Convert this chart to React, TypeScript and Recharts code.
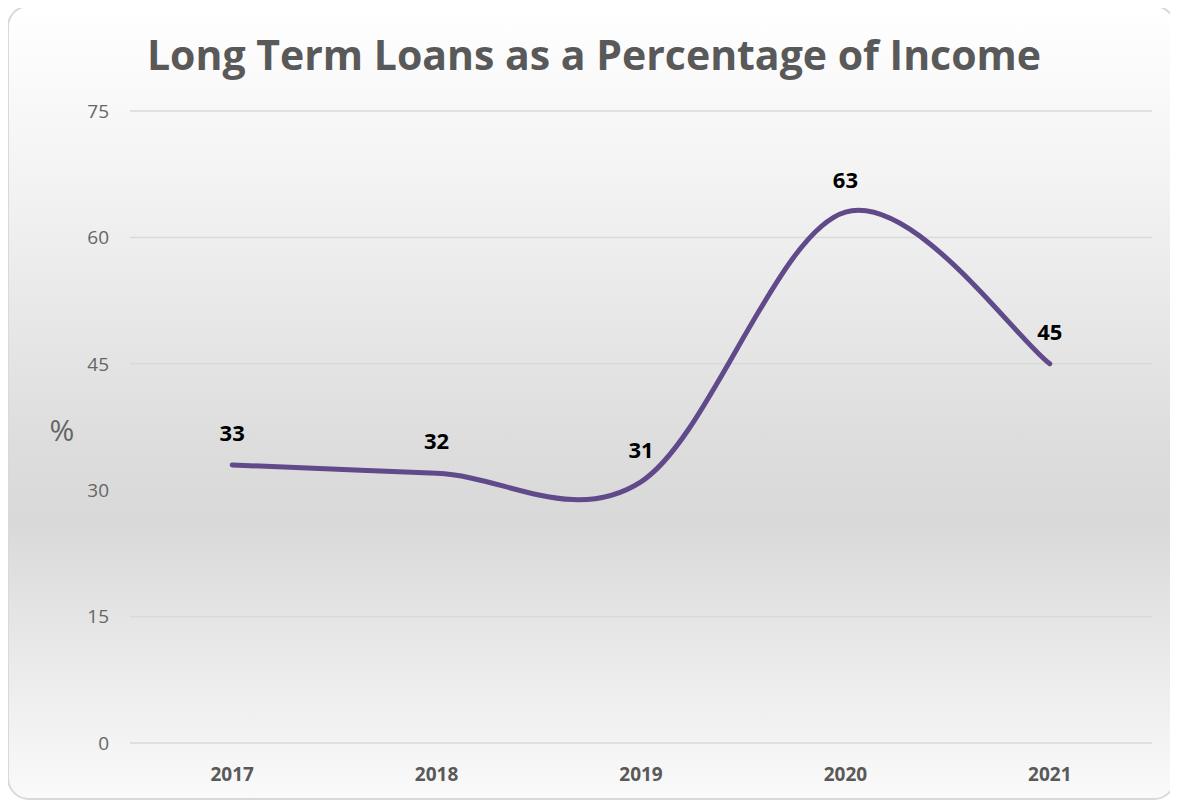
import React from 'react';
import { LineChart, Line, XAxis, YAxis, CartesianGrid, LabelList } from 'recharts';

const years = ['2017', '2018', '2019', '2020', '2021'];
const loanPct = [33, 32, 31, 63, 45];
const yTicks = [0, 15, 30, 45, 60, 75];
const title = 'Long Term Loans as a Percentage of Income';
const yLabel = '%';

const data = years.map((y, i) => ({ year: y, v: loanPct[i] }));

// Excel-like smoothed line (Catmull-Rom as cubic Bezier)
function excelSmooth(context: any) {
  let pts: number[][] = [];
  return {
    areaStart() {},
    areaEnd() {},
    lineStart() {
      pts = [];
    },
    lineEnd() {
      const n = pts.length;
      if (!n) return;
      context.moveTo(pts[0][0], pts[0][1]);
      for (let i = 0; i < n - 1; i++) {
        const p0 = pts[Math.max(i - 1, 0)];
        const p1 = pts[i];
        const p2 = pts[i + 1];
        const p3 = pts[Math.min(i + 2, n - 1)];
        const c1x = p1[0] + (p2[0] - p0[0]) / 6;
        const c1y = p1[1] + (p2[1] - p0[1]) / 6;
        const c2x = p2[0] - (p3[0] - p1[0]) / 6;
        const c2y = p2[1] - (p3[1] - p1[1]) / 6;
        context.bezierCurveTo(c1x, c1y, c2x, c2y, p2[0], p2[1]);
      }
    },
    point(x: number, y: number) {
      pts.push([+x, +y]);
    },
  };
}

const FONT = '"Open Sans", "Noto Sans", sans-serif';

export default function App() {
  return (
    <div
      style={{
        position: 'relative',
        width: 1165,
        height: 791,
        margin: '-3px 0 0 -1px',
        border: '2px solid #d9d9d9',
        borderRadius: 22,
        background:
          'linear-gradient(to bottom, #ffffff 0%, #f3f3f3 22%, #dddddd 55%, #d9d9d9 65%, #efefef 88%, #fafafa 100%)',
        fontFamily: FONT,
        overflow: 'hidden',
      }}
    >
      <div
        style={{
          position: 'absolute',
          left: 0,
          top: 22,
          width: 1170,
          textAlign: 'center',
          fontSize: 41,
          fontWeight: 700,
          color: '#595959',
          fontFamily: FONT,
          lineHeight: '50px',
        }}
      >
        {title}
      </div>
      <div
        style={{
          position: 'absolute',
          left: 36,
          top: 405,
          width: 34,
          textAlign: 'center',
          fontSize: 30,
          color: '#666666',
          fontFamily: FONT,
          lineHeight: '36px',
        }}
      >
        {yLabel}
      </div>
      <LineChart
        width={1162}
        height={791}
        data={data}
        margin={{ top: 104, right: 19, bottom: 15, left: 61 }}
      >
        <CartesianGrid vertical={false} stroke="#d9d9d9" strokeWidth={1.5} />
        <XAxis
          dataKey="year"
          scale="band"
          axisLine={false}
          tickLine={false}
          tickSize={0}
          tickMargin={25}
          height={40}
          tick={{ fill: '#595959', fontSize: 19, fontWeight: 700, fontFamily: FONT }}
        />
        <YAxis
          domain={[0, 75]}
          ticks={yTicks}
          axisLine={false}
          tickLine={false}
          tickSize={0}
          tickMargin={21}
          width={60}
          tick={{ fill: '#666666', fontSize: 19, fontFamily: FONT }}
        />
        <Line
          dataKey="v"
          type={excelSmooth as any}
          stroke="#604a8a"
          strokeWidth={5}
          dot={false}
          activeDot={false}
          isAnimationActive={false}
          strokeLinecap="round"
        >
          <LabelList
            dataKey="v"
            position="top"
            offset={24}
            fill="#000000"
            fontSize={22}
            fontWeight={700}
            fontFamily={FONT}
          />
        </Line>
      </LineChart>
    </div>
  );
}
